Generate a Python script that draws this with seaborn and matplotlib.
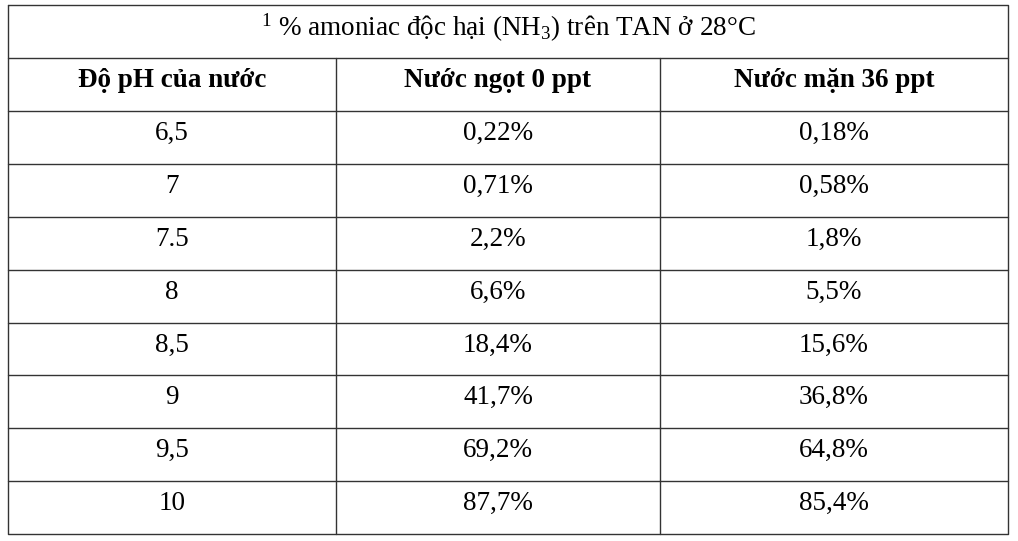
import matplotlib
matplotlib.use("Agg")
import matplotlib.pyplot as plt
import seaborn as sns

sns.set_theme(style="white")
plt.rcParams['font.family'] = ['Liberation Serif', 'DejaVu Serif']
plt.rcParams['mathtext.fontset'] = 'custom'
plt.rcParams['mathtext.rm'] = 'Liberation Serif'
plt.rcParams['mathtext.it'] = 'Liberation Serif'

title = r"$^{1}$ % amoniac độc hại (NH$_{3}$) trên TAN ở 28°C"
headers = ["Độ pH của nước", "Nước ngọt 0 ppt", "Nước mặn 36 ppt"]
ph = ["6,5", "7", "7.5", "8", "8,5", "9", "9,5", "10"]
fresh = ["0,22%", "0,71%", "2,2%", "6,6%", "18,4%", "41,7%", "69,2%", "87,7%"]
salt = ["0,18%", "0,58%", "1,8%", "5,5%", "15,6%", "36,8%", "64,8%", "85,4%"]

W, H = 1018, 541
fig = plt.figure(figsize=(W / 100, H / 100), dpi=100)
ax = fig.add_axes([0, 0, 1, 1])
ax.set_xlim(0, W)
ax.set_ylim(H, 0)
ax.axis("off")

cols = [8, 336, 660, 1008]
top, title_bottom = 5, 58
row_h = 52.9
rows = [title_bottom + i * row_h for i in range(len(ph) + 2)]
bottom = rows[-1]
lc = "#333333"
fs = 19.5

# outer box and horizontal rules
ax.plot([cols[0], cols[-1], cols[-1], cols[0], cols[0]],
        [top, top, bottom, bottom, top], color=lc, lw=1)
for y in rows[:-1]:
    ax.plot([cols[0], cols[-1]], [y, y], color=lc, lw=1)
for x in cols[1:-1]:
    ax.plot([x, x], [title_bottom, bottom], color=lc, lw=1)

ax.text((cols[0] + cols[-1]) / 2, (top + title_bottom) / 2 - 4, title,
        ha="center", va="center", fontsize=fs, color="black")

centers = [(cols[i] + cols[i + 1]) / 2 for i in range(3)]
for i, h in enumerate(headers):
    ax.text(centers[i], (rows[0] + rows[1]) / 2 - 4, h, ha="center", va="center",
            fontsize=fs, fontweight="bold", color="black")

for r, vals in enumerate(zip(ph, fresh, salt)):
    yc = (rows[r + 1] + rows[r + 2]) / 2 - 4
    for i, v in enumerate(vals):
        ax.text(centers[i], yc, v, ha="center", va="center", fontsize=fs, color="black")

fig.savefig("out.png", dpi=100, facecolor="white")
